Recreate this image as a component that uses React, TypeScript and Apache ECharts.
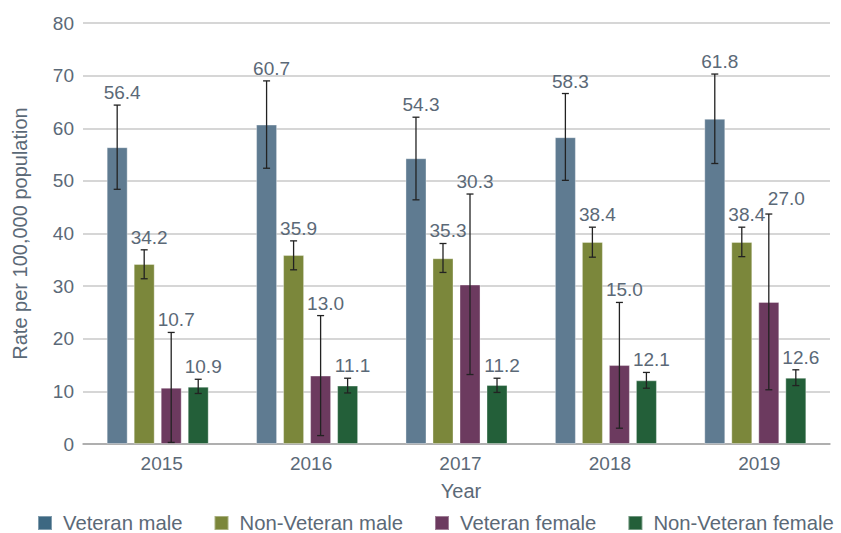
import React, { useEffect, useRef } from "react";
import * as echarts from "echarts";

const years = ["2015", "2016", "2017", "2018", "2019"];
const seriesNames = ["Veteran male", "Non-Veteran male", "Veteran female", "Non-Veteran female"];

const veteranMale = [56.4, 60.7, 54.3, 58.3, 61.8];
const veteranMaleLow = [48.4, 52.4, 46.4, 50.1, 53.3];
const veteranMaleHigh = [64.4, 69.0, 62.1, 66.6, 70.3];

const nonVeteranMale = [34.2, 35.9, 35.3, 38.4, 38.4];
const nonVeteranMaleLow = [31.4, 33.1, 32.6, 35.5, 35.6];
const nonVeteranMaleHigh = [36.9, 38.6, 38.1, 41.2, 41.2];

const veteranFemale = [10.7, 13.0, 30.3, 15.0, 27.0];
const veteranFemaleLow = [0.3, 1.6, 13.2, 3.0, 10.3];
const veteranFemaleHigh = [21.2, 24.4, 47.5, 26.9, 43.7];

const nonVeteranFemale = [10.9, 11.1, 11.2, 12.1, 12.6];
const nonVeteranFemaleLow = [9.6, 9.7, 9.8, 10.6, 11.1];
const nonVeteranFemaleHigh = [12.3, 12.5, 12.5, 13.6, 14.1];

const yTicks = { min: 0, max: 80, interval: 10 };

const barColors = ["#5f7b91", "#7b873b", "#6c3a5f", "#235f39"];
const legendColors = ["#3d6882", "#7b863a", "#6c3a5f", "#235f39"];

const values = [veteranMale, nonVeteranMale, veteranFemale, nonVeteranFemale];
const lows = [veteranMaleLow, nonVeteranMaleLow, veteranFemaleLow, nonVeteranFemaleLow];
const highs = [veteranMaleHigh, nonVeteranMaleHigh, veteranFemaleHigh, nonVeteranFemaleHigh];

const CAT_GAP = 0.317;
const BAR_GAP = 0.286;
const TEXT = "#5b6977";
const FONT = "'Liberation Sans', Arial, sans-serif";
const LABEL_SIZE = 19;

export default function App() {
  const ref = useRef<HTMLDivElement>(null);
  useEffect(() => {
    document.body.style.margin = "0";
    if (!ref.current) return;
    const chart = echarts.init(ref.current, null, { renderer: "svg" });

    const errData: any[] = [];
    for (let s = 0; s < 4; s++) {
      for (let c = 0; c < years.length; c++) {
        errData.push([c, s, lows[s][c], highs[s][c], values[s][c]]);
      }
    }

    const n = 4;
    const labelWidth = (v: number) => v.toFixed(1).length * LABEL_SIZE * 0.52;

    const option: any = {
      animation: false,
      grid: { left: 83, right: 11, top: 23, bottom: 89 },
      legend: {
        top: 508,
        left: 32,
        itemWidth: 14,
        itemHeight: 14,
        itemGap: 31,
        icon: "rect",
        textStyle: {
          color: TEXT,
          fontSize: 20.3,
          lineHeight: 20,
          fontFamily: FONT,
          padding: [0, 0, 0, 6],
        },
        data: seriesNames.map((nm, i) => ({ name: nm, itemStyle: { color: legendColors[i] } })),
      },
      xAxis: {
        type: "category",
        data: years,
        name: "Year",
        nameLocation: "middle",
        nameGap: 37,
        nameTextStyle: { color: TEXT, fontSize: 20, fontFamily: FONT, padding: [0, 0, 0, 9] },
        axisTick: { show: false },
        axisLine: { lineStyle: { color: "#a3a3a3", width: 1.5 } },
        axisLabel: { color: TEXT, fontSize: 19, fontFamily: FONT, margin: 10, padding: [0, 0, 0, 8] },
      },
      yAxis: {
        type: "value",
        min: yTicks.min,
        max: yTicks.max,
        interval: yTicks.interval,
        name: "Rate per 100,000 population",
        nameLocation: "middle",
        nameGap: 53,
        nameRotate: 90,
        nameTextStyle: { color: TEXT, fontSize: 20, fontFamily: FONT },
        axisLine: { show: false },
        axisTick: { show: false },
        axisLabel: { color: TEXT, fontSize: 19, fontFamily: FONT, margin: 9 },
        splitLine: { lineStyle: { color: "#c8c8c8", width: 1.5 } },
      },
      series: [
        ...seriesNames.map((nm, i) => ({
          name: nm,
          type: "bar",
          data: values[i],
          barCategoryGap: CAT_GAP * 100 + "%",
          barGap: BAR_GAP * 100 + "%",
          itemStyle: { color: barColors[i], borderColor: "rgba(255,255,255,0.35)", borderWidth: 1 },
        })),
        {
          type: "custom",
          name: "errors",
          data: errData,
          encode: { x: 0, y: [2, 3] },
          z: 10,
          renderItem: (params: any, api: any) => {
            const c = api.value(0);
            const s = api.value(1);
            const lo = api.value(2);
            const hi = api.value(3);
            const v = api.value(4);
            const band = api.size([1, 0])[0];
            const usable = band * (1 - CAT_GAP);
            const bw = usable / (n + (n - 1) * BAR_GAP);
            const center = api.coord([c, 0])[0];
            const barX = (k: number) => center - usable / 2 + k * bw * (1 + BAR_GAP) + bw / 2;
            const x = barX(s);
            const yLo = api.coord([c, lo])[1];
            const yHi = api.coord([c, hi])[1];
            const cap = 3.5;
            const ls = { stroke: "#222222", lineWidth: 1.3 };

            // label placement, nudged right/up if it collides with the previous bar's label
            let lx = x + 5;
            let ly = yHi - 3;
            if (s > 0) {
              const px = barX(s - 1) + 5;
              const py = api.coord([c, highs[s - 1][c]])[1] - 3;
              const pRight = px + labelWidth(values[s - 1][c]) / 2;
              const myLeft = lx - labelWidth(v) / 2;
              if (Math.abs(py - ly) < LABEL_SIZE && myLeft < pRight) {
                lx += pRight - myLeft;
                ly -= 3;
              }
            }
            return {
              type: "group",
              children: [
                { type: "line", shape: { x1: x, y1: yLo, x2: x, y2: yHi }, style: ls },
                { type: "line", shape: { x1: x - cap, y1: yHi, x2: x + cap, y2: yHi }, style: ls },
                { type: "line", shape: { x1: x - cap, y1: yLo, x2: x + cap, y2: yLo }, style: ls },
                {
                  type: "text",
                  x: lx,
                  y: ly,
                  style: {
                    text: v.toFixed(1),
                    fill: TEXT,
                    fontSize: LABEL_SIZE,
                    fontFamily: FONT,
                    align: "center",
                    verticalAlign: "bottom",
                  },
                },
              ],
            };
          },
        },
      ],
    };
    chart.setOption(option);
    return () => chart.dispose();
  }, []);
  return <div ref={ref} style={{ width: 841, height: 533 }} />;
}
